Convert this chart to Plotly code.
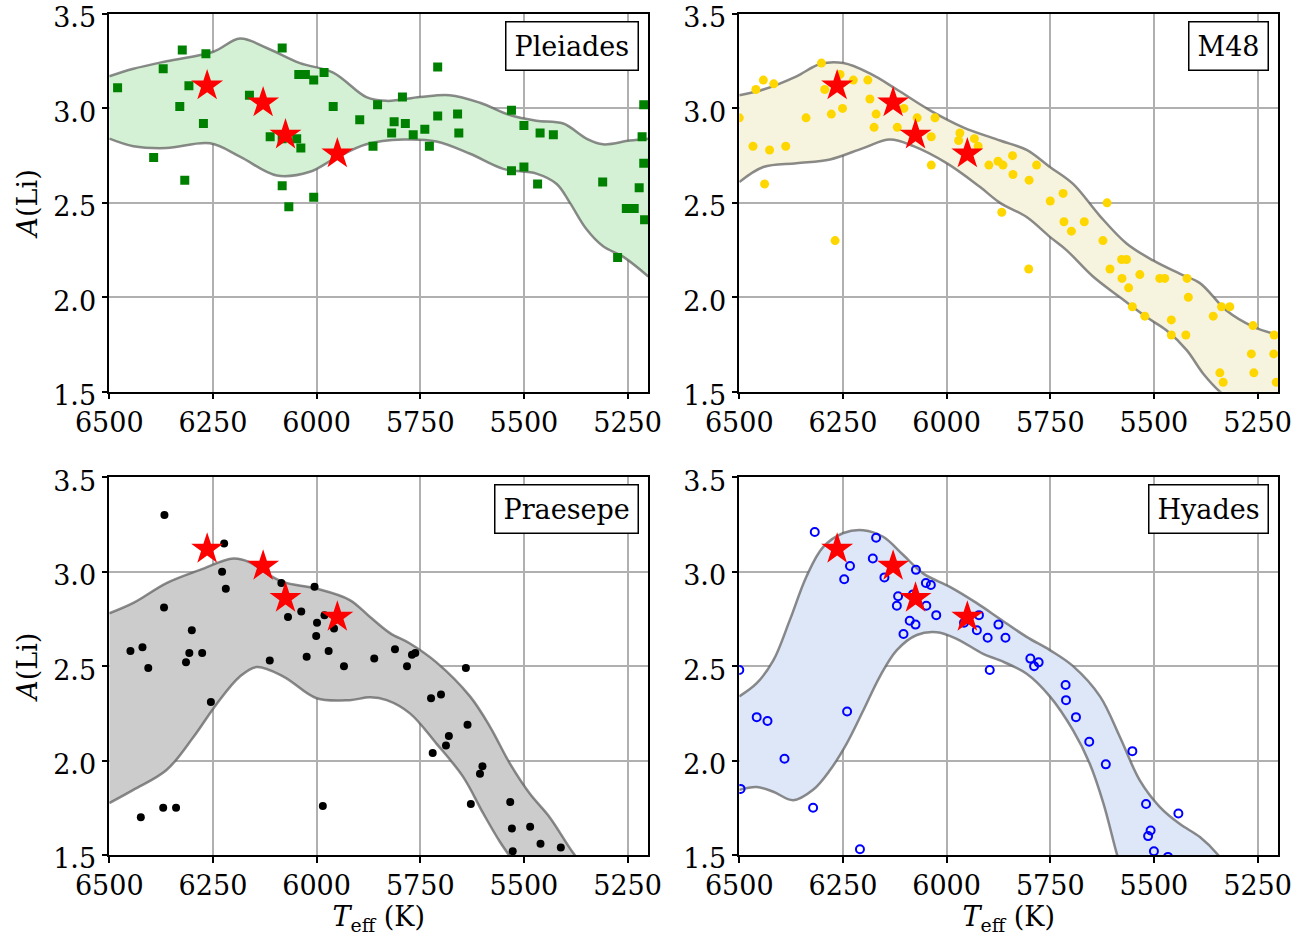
import plotly.graph_objects as go

# ---------------- data ----------------
star_teff = [6264, 6129, 6075, 5950]
star_ali = [3.12, 3.03, 2.86, 2.76]

ple_teff = [6480, 6324, 6267, 6370, 6308, 6330, 6273, 6393, 6318, 6083, 6043, 6027, 6007, 5982, 6162, 5960,
            5853, 5896, 6112, 6083, 6048, 6038, 5864, 6083, 6067, 6007, 5793, 5708, 5813, 5786, 5819, 5767,
            5739, 5708, 5660, 5657, 5728, 5530, 5500, 5461, 5429, 5530, 5500, 5467, 5310, 5211, 5215, 5211,
            5222, 5253, 5234, 5209, 5274]
ple_ali = [3.11, 3.31, 3.29, 3.21, 3.12, 3.01, 2.92, 2.74, 2.62, 3.32, 3.18, 3.18, 3.15, 3.19, 3.07, 3.01,
           3.02, 2.94, 2.85, 2.84, 2.84, 2.79, 2.80, 2.59, 2.48, 2.53, 3.06, 3.22, 2.93, 2.92, 2.87, 2.86,
           2.89, 2.96, 2.97, 2.87, 2.80, 2.99, 2.91, 2.87, 2.86, 2.67, 2.69, 2.60, 2.61, 3.02, 2.85, 2.71,
           2.58, 2.47, 2.47, 2.41, 2.21]
ple_up_teff = [6500, 6442, 6362, 6249, 6185, 6120, 6040, 5960, 5880, 5831, 5751, 5679, 5606, 5534, 5470, 5405,
               5349, 5309, 5245, 5200]
ple_up_ali = [3.17, 3.21, 3.25, 3.30, 3.37, 3.32, 3.24, 3.19, 3.06, 3.04, 3.06, 3.07, 3.03, 2.965, 2.935, 2.92,
              2.84, 2.81, 2.83, 2.84]
ple_lo_teff = [6500, 6442, 6362, 6257, 6185, 6096, 6016, 5960, 5880, 5791, 5711, 5630, 5550, 5470, 5421, 5389,
               5349, 5309, 5261, 5200]
ple_lo_ali = [2.84, 2.80, 2.79, 2.815, 2.745, 2.645, 2.665, 2.73, 2.81, 2.835, 2.825, 2.76, 2.68, 2.655, 2.60,
              2.50, 2.36, 2.27, 2.215, 2.11]

m48_teff = [6500, 6460, 6442, 6417, 6467, 6427, 6388, 6439, 6339, 6302, 6294, 6257, 6278, 6251, 6225, 6190,
            6185, 6170, 6175, 6269, 6119, 6103, 6071, 6037, 6028, 6037, 5968, 5971, 5933, 5924, 5898, 5876,
            5864, 5867, 5841, 5840, 5783, 5801, 5802, 5750, 5719, 5717, 5699, 5668, 5613, 5623, 5606, 5578,
            5566, 5577, 5561, 5534, 5552, 5522, 5486, 5474, 5420, 5417, 5458, 5458, 5423, 5357, 5337, 5317,
            5261, 5210, 5211, 5265, 5259, 5341, 5333, 5205]
m48_ali = [2.95, 3.10, 3.15, 3.13, 2.80, 2.78, 2.80, 2.60, 2.95, 3.24, 3.10, 3.18, 2.97, 3.00, 3.15, 3.15,
           3.05, 2.97, 2.90, 2.30, 2.90, 3.00, 2.95, 2.85, 2.95, 2.70, 2.87, 2.83, 2.84, 2.80, 2.70, 2.72,
           2.70, 2.45, 2.75, 2.65, 2.70, 2.62, 2.15, 2.51, 2.55, 2.40, 2.35, 2.40, 2.50, 2.30, 2.15, 2.20,
           2.20, 2.10, 2.05, 2.12, 1.95, 1.90, 2.10, 2.10, 2.10, 2.00, 1.88, 1.80, 1.80, 1.90, 1.95, 1.95,
           1.85, 1.80, 1.70, 1.70, 1.60, 1.60, 1.55, 1.55]
m48_up_teff = [6500, 6442, 6362, 6305, 6249, 6185, 6120, 6040, 5960, 5871, 5807, 5751, 5695, 5630, 5566, 5502,
               5438, 5389, 5325, 5261, 5200]
m48_up_ali = [3.07, 3.10, 3.17, 3.235, 3.24, 3.185, 3.10, 2.99, 2.90, 2.83, 2.78, 2.69, 2.60, 2.43, 2.285, 2.195,
              2.125, 2.075, 1.93, 1.845, 1.80]
m48_lo_teff = [6500, 6442, 6362, 6281, 6201, 6137, 6080, 6000, 5920, 5871, 5807, 5751, 5711, 5647, 5582, 5518,
               5470, 5421, 5381, 5341, 5280, 5200]
m48_lo_ali = [2.61, 2.69, 2.71, 2.73, 2.79, 2.835, 2.80, 2.71, 2.585, 2.50, 2.425, 2.32, 2.25, 2.11, 2.00, 1.895,
              1.825, 1.72, 1.595, 1.50, 1.40, 1.30]

pra_teff = [6367, 6223, 6228, 6219, 6368, 6301, 6449, 6420, 6406, 6315, 6307, 6276, 6255, 6424, 6370, 6339,
            6085, 6069, 6113, 6037, 6005, 6024, 5999, 6001, 5981, 5958, 5971, 5934, 5985, 5861, 5811, 5782,
            5770, 5762, 5640, 5724, 5700, 5636, 5681, 5688, 5720, 5600, 5606, 5628, 5533, 5529, 5485, 5460,
            5411, 5527]
pra_ali = [3.30, 3.15, 3.00, 2.91, 2.81, 2.69, 2.58, 2.60, 2.49, 2.52, 2.57, 2.57, 2.31, 1.70, 1.75, 1.75,
           2.94, 2.76, 2.53, 2.79, 2.92, 2.55, 2.73, 2.66, 2.77, 2.70, 2.58, 2.50, 1.76, 2.54, 2.59, 2.50,
           2.56, 2.57, 2.49, 2.33, 2.35, 2.19, 2.13, 2.08, 2.04, 1.97, 1.93, 1.77, 1.78, 1.64, 1.65, 1.56,
           1.54, 1.52]
pra_up_teff = [6500, 6442, 6362, 6281, 6201, 6161, 6120, 6080, 6000, 5920, 5871, 5823, 5775, 5711, 5630, 5582,
               5534, 5486, 5438, 5381, 5340]
pra_up_ali = [2.78, 2.835, 2.94, 3.01, 3.07, 3.05, 2.99, 2.945, 2.91, 2.85, 2.76, 2.675, 2.62, 2.52, 2.34, 2.18,
              1.985, 1.825, 1.70, 1.51, 1.40]
pra_lo_teff = [6500, 6442, 6362, 6297, 6241, 6185, 6145, 6080, 6000, 5920, 5871, 5831, 5775, 5711, 5647, 5598,
               5558, 5520]
pra_lo_ali = [1.775, 1.845, 1.95, 2.125, 2.30, 2.445, 2.495, 2.445, 2.33, 2.32, 2.335, 2.32, 2.25, 2.09, 1.915,
              1.72, 1.57, 1.45]

hya_teff = [6318, 6170, 6178, 6233, 6247, 6150, 6074, 6050, 6038, 6117, 6120, 6081, 6049, 6025, 6089, 6075,
            6104, 5958, 5922, 5927, 5901, 5875, 5858, 5896, 6500, 6458, 6432, 6240, 6391, 6497, 6322, 6209,
            5798, 5789, 5778, 5713, 5712, 5688, 5656, 5616, 5552, 5519, 5441, 5508, 5514, 5500, 5466]
hya_ali = [3.21, 3.18, 3.07, 3.03, 2.96, 2.97, 3.01, 2.94, 2.93, 2.87, 2.82, 2.88, 2.82, 2.77, 2.74, 2.72,
           2.67, 2.73, 2.77, 2.69, 2.65, 2.72, 2.65, 2.48, 2.48, 2.23, 2.21, 2.26, 2.01, 1.85, 1.75, 1.53,
           2.54, 2.50, 2.52, 2.40, 2.32, 2.23, 2.10, 1.98, 2.05, 1.77, 1.72, 1.63, 1.60, 1.52, 1.49]
hya_up_teff = [6500, 6458, 6418, 6378, 6338, 6298, 6249, 6201, 6153, 6105, 6056, 5992, 5928, 5871, 5807, 5751,
               5695, 5630, 5582, 5534, 5486, 5438, 5389, 5345, 5320]
hya_up_ali = [2.34, 2.41, 2.53, 2.745, 2.975, 3.13, 3.205, 3.22, 3.185, 3.09, 2.99, 2.92, 2.835, 2.75, 2.655, 2.585,
              2.50, 2.34, 2.125, 1.895, 1.755, 1.665, 1.595, 1.50, 1.42]
hya_lo_teff = [6500, 6458, 6418, 6370, 6322, 6281, 6241, 6201, 6161, 6120, 6072, 6024, 5976, 5912, 5871, 5807,
               5751, 5695, 5655, 5622, 5590, 5575]
hya_lo_ali = [1.845, 1.86, 1.835, 1.79, 1.845, 1.95, 2.09, 2.265, 2.445, 2.585, 2.665, 2.68, 2.645, 2.565, 2.53,
              2.46, 2.34, 2.16, 1.985, 1.775, 1.51, 1.40]

xtick_vals = [6500, 6250, 6000, 5750, 5500, 5250]
ytick_vals = [1.5, 2.0, 2.5, 3.0, 3.5]
panel_names = ["Pleiades", "M48", "Praesepe", "Hyades"]

# ---------------- figure ----------------
W, H = 1314, 938
FONT = "DejaVu Serif"
FS = 27
fig = go.Figure()

left = [109.3 / W, 648.3 / W]
right = [739.3 / W, 1278.3 / W]
top = [1 - 391.7 / H, 1 - 14 / H]
bottom = [1 - 855 / H, 1 - 477.3 / H]

panels = [
    dict(name=panel_names[0], xd=left, yd=top, pts=(ple_teff, ple_ali),
         up=(ple_up_teff, ple_up_ali), lo=(ple_lo_teff, ple_lo_ali),
         fill="rgb(213,241,213)",
         marker=dict(symbol="square", size=9, color="rgb(0,128,0)")),
    dict(name=panel_names[1], xd=right, yd=top, pts=(m48_teff, m48_ali),
         up=(m48_up_teff, m48_up_ali), lo=(m48_lo_teff, m48_lo_ali),
         fill="rgb(246,243,222)",
         marker=dict(symbol="circle", size=9, color="rgb(255,215,0)")),
    dict(name=panel_names[2], xd=left, yd=bottom, pts=(pra_teff, pra_ali),
         up=(pra_up_teff, pra_up_ali), lo=(pra_lo_teff, pra_lo_ali),
         fill="rgb(204,204,204)",
         marker=dict(symbol="circle", size=8, color="black")),
    dict(name=panel_names[3], xd=right, yd=bottom, pts=(hya_teff, hya_ali),
         up=(hya_up_teff, hya_up_ali), lo=(hya_lo_teff, hya_lo_ali),
         fill="rgb(221,231,247)",
         marker=dict(symbol="circle-open", size=8, color="rgb(0,0,255)", line=dict(width=2, color="rgb(0,0,255)"))),
]

edge = dict(color="rgba(90,90,90,0.7)", width=2.5, shape="spline", smoothing=1.0)

for i, p in enumerate(panels, start=1):
    xa = "x" if i == 1 else f"x{i}"
    ya = "y" if i == 1 else f"y{i}"
    fig.add_trace(go.Scatter(x=p["lo"][0], y=p["lo"][1], mode="lines", line=edge,
                             xaxis=xa, yaxis=ya, showlegend=False, hoverinfo="skip"))
    fig.add_trace(go.Scatter(x=p["up"][0], y=p["up"][1], mode="lines", line=edge,
                             fill="tonexty", fillcolor=p["fill"],
                             xaxis=xa, yaxis=ya, showlegend=False, hoverinfo="skip"))
    fig.add_trace(go.Scatter(x=p["pts"][0], y=p["pts"][1], mode="markers", marker=p["marker"],
                             xaxis=xa, yaxis=ya, showlegend=False))
    fig.add_trace(go.Scatter(x=star_teff, y=star_ali, mode="markers",
                             marker=dict(symbol="star", size=24, color="red", line=dict(width=0)),
                             xaxis=xa, yaxis=ya, showlegend=False))

    axcommon = dict(showline=True, linecolor="black", linewidth=1.5, mirror=True,
                    showgrid=True, gridcolor="rgb(176,176,176)", gridwidth=1.5,
                    ticks="outside", ticklen=6, tickwidth=1.5, tickcolor="black", automargin=False,
                    ticklabeloverflow="allow",
                    tickfont=dict(family=FONT, size=FS, color="black"), zeroline=False)
    xkey = "xaxis" if i == 1 else f"xaxis{i}"
    ykey = "yaxis" if i == 1 else f"yaxis{i}"
    xax = dict(domain=p["xd"], anchor=ya, range=[6500, 5200], tickvals=xtick_vals,
               ticktext=[str(v) for v in xtick_vals], **axcommon)
    if p["yd"] is bottom:
        xax["title"] = dict(text="<i>T</i><sub>eff</sub> (K)", font=dict(family=FONT, size=FS, color="black"),
                            standoff=4)
    yax = dict(domain=p["yd"], anchor=xa, range=[1.5, 3.5], tickvals=ytick_vals,
               ticktext=[f"{v:.1f}" for v in ytick_vals], ticklabelshift=4, **axcommon)
    if p["xd"] is left:
        yax["title"] = dict(text="<i>A</i>(Li)", font=dict(family=FONT, size=FS, color="black"), standoff=8)
    fig.layout[xkey] = xax
    fig.layout[ykey] = yax

    fig.add_annotation(text=p["name"], xref=f"{xa} domain", yref=f"{ya} domain", x=1, y=1,
                       xanchor="right", yanchor="top", xshift=-9, yshift=-7, showarrow=False,
                       font=dict(family=FONT, size=FS, color="black"),
                       bordercolor="black", borderwidth=1.5, borderpad=8, bgcolor="white")

fig.update_layout(width=W, height=H, margin=dict(l=0, r=0, t=0, b=0),
                  paper_bgcolor="white", plot_bgcolor="white",
                  font=dict(family=FONT, size=FS, color="black"))

fig.write_html("out.html")
